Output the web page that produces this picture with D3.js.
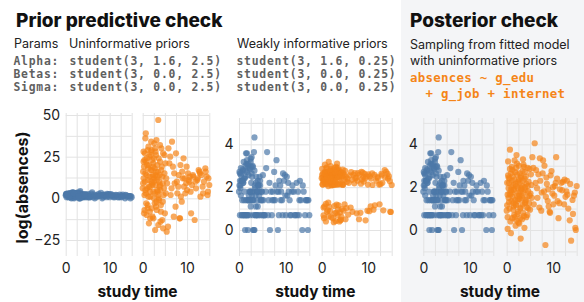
<!DOCTYPE html>
<html><head><meta charset="utf-8">
<script src="https://cdn.jsdelivr.net/npm/d3@7"></script>
<style>
body{margin:0;background:#fff}
svg{display:block}
text{font-family:Inter,"Noto Sans",sans-serif}
text.mono{font-family:"DejaVu Sans Mono",monospace;white-space:pre}
</style>
</head><body>
<svg id="c" width="584" height="302"></svg>
<script>
// ---- data ----
const studyTime = [
 0.2,1.1,2.4,3.3,0.7,4.1,1.8,2.9,0.4,3.7,
 1.5,2.2,4.6,0.9,3.1,1.3,2.7,5.2,0.1,3.9,
 2.0,4.4,1.0,3.5,0.6,2.5,4.9,1.7,3.0,0.3,
 2.8,1.2,4.2,0.8,3.4,2.1,5.0,1.6,3.8,0.5,
 2.3,4.7,1.4,3.2,0.0,2.6,4.0,1.9,3.6,5.4,
 0.9,2.4,3.3,1.1,4.5,2.0,0.2,3.0,1.7,4.3,
 2.9,0.6,3.7,1.4,5.1,2.2,0.4,3.9,1.8,2.6,
 4.8,1.0,3.1,0.7,2.5,4.1,1.5,3.5,0.1,2.8,
 1.3,4.4,2.1,0.8,3.4,5.3,1.9,2.7,0.3,3.8,
 2.3,1.6,4.6,0.5,3.2,2.0,4.0,1.2,3.6,0.9,
 2.4,3.0,1.7,4.9,0.2,2.8,3.3,1.1,4.2,2.5,
 0.6,3.9,1.4,2.2,5.5,3.5,0.4,1.9,2.9,4.5,
 6.0,6.6,7.2,7.8,8.3,8.9,9.4,10.0,10.6,11.1,
 11.7,12.3,12.9,13.5,14.1,14.7,6.3,7.0,7.5,8.1,
 8.6,9.2,9.8,10.3,10.9,11.4,12.0,12.6,13.2,13.8,
 14.4,15.0,5.8,6.8,7.4,8.0,8.5,9.0,9.6,10.2,
 10.8,11.9,13.0,14.2,14.8,6.2,7.7,8.8,9.9,11.3,
 12.4,13.6,5.7,6.5,7.1,8.4,9.3,10.5,12.8,14.6
];
const observedLogAbsences = [
 2.30,0.69,1.79,2.77,1.39,2.08,0.69,3.00,1.61,2.48,
 1.39,2.89,0.69,2.20,1.79,0.00,2.64,1.39,2.08,0.69,
 2.56,1.79,3.18,0.69,2.30,1.10,1.39,2.71,0.69,1.95,
 1.61,2.40,0.69,2.83,2.08,1.39,0.69,3.09,1.79,2.30,
 0.69,1.39,2.48,3.64,1.79,2.94,1.10,0.00,2.20,0.69,
 2.77,1.79,4.32,0.69,2.08,1.39,2.64,0.00,3.26,1.61,
 1.39,2.30,0.69,3.00,2.56,1.79,2.89,1.39,0.69,2.20,
 1.79,2.40,1.39,0.69,3.33,2.08,3.58,0.69,2.71,1.79,
 0.69,2.48,1.61,2.30,1.95,0.69,1.39,3.40,2.08,1.79,
 2.83,0.69,1.39,2.64,0.00,3.09,2.30,1.79,1.10,2.20,
 1.39,2.94,3.58,1.79,0.69,2.48,0.00,1.39,2.08,3.18,
 0.69,1.79,2.77,1.39,0.69,1.61,2.56,3.00,1.39,2.30,
 3.64,0.00,1.79,2.08,0.00,1.39,2.64,0.69,1.79,0.69,
 1.79,2.20,1.39,0.00,0.69,0.00,1.39,0.69,2.71,1.79,
 2.30,1.39,2.56,1.61,0.69,2.08,0.69,1.79,1.39,1.79,
 1.39,0.69,2.89,1.79,1.39,3.26,0.69,1.79,2.30,2.48,
 1.39,0.69,2.30,1.39,1.39,0.69,1.39,2.08,1.61,1.79,
 0.69,2.08,1.79,2.20,1.39,1.79,0.69,2.20,0.69,1.39
];
const priorUninformative = [
 12,-4,21,5,39,-8,17,28,2,10,
 25,8,-18,14,-2,31,18,3,9,22,
 -6,13,6,47,36,0,15,-12,26,19,
 -19,11,30,-3,16,23,-9,4,7,27,
 14,2,20,-7,6,33,-14,10,24,-20,
 -10,4,13,29,9,17,22,-5,1,19,
 8,15,-1,7,21,-11,-7,32,26,12,
 6,20,35,3,24,-4,13,-16,16,30,
 1,-13,9,22,4,12,34,-3,-9,14,
 19,-8,27,10,11,29,5,18,0,24,
 -12,16,7,26,28,3,20,-6,17,10,
 5,8,-15,13,9,2,23,28,14,-2,
 21,34,9,3,-12,16,12,5,13,8,
 -13,11,15,7,18,4,2,-11,27,14,
 1,24,9,11,-9,13,6,17,14,10,
 13,8,30,19,-5,7,20,12,3,15,
 4,10,1,16,12,25,10,-2,19,14,
 12,3,-17,6,15,-12,7,10,16,2
];
const priorWeak = [
 2.45,0.85,2.62,2.12,2.71,0.48,2.55,2.38,1.05,2.80,
 3.18,2.10,2.66,0.40,2.95,2.30,1.12,2.48,2.58,0.82,
 2.75,2.15,2.88,0.95,2.20,2.52,1.20,2.68,0.42,2.33,
 2.90,2.14,2.40,2.62,0.70,2.08,2.76,1.08,2.50,0.55,
 2.37,0.90,2.05,2.82,2.42,0.36,2.60,2.98,1.15,2.25,
 2.70,2.16,2.50,2.92,2.10,0.60,2.12,2.64,2.22,0.98,
 2.12,1.10,2.35,2.56,0.50,2.78,2.30,2.13,0.88,2.45,
 2.58,2.40,0.80,3.05,2.11,2.70,0.65,2.48,2.86,2.60,
 0.92,2.52,2.44,2.15,2.90,1.02,2.28,2.12,2.64,0.40,
 2.66,2.47,2.12,2.35,1.18,2.84,0.45,2.58,2.74,1.22,
 0.55,2.24,2.75,2.36,2.13,0.78,3.10,2.50,0.62,2.30,
 2.62,2.66,1.28,2.55,2.40,2.14,0.68,2.40,2.70,2.82,
 2.55,0.85,2.42,2.66,0.80,2.48,0.45,2.60,2.40,0.95,
 2.30,2.12,2.55,2.80,2.62,0.85,2.70,2.18,0.78,2.58,
 2.36,2.62,0.90,2.50,2.10,1.15,2.42,2.14,0.92,2.72,
 2.50,2.10,2.20,2.58,2.44,0.50,2.72,2.26,2.50,0.88,
 2.65,2.48,2.20,2.40,0.84,1.05,2.30,2.68,2.12,2.58,
 1.20,2.45,0.72,2.34,2.66,2.16,2.40,1.10,2.62,2.28
];
const posteriorDraws = [
 1.65,2.30,0.85,2.05,3.75,1.40,2.70,0.55,1.95,2.95,
 1.10,3.10,1.80,-0.15,2.45,1.55,0.30,2.60,2.20,1.25,
 2.05,0.70,1.35,3.30,1.00,1.70,2.85,0.60,-0.40,2.55,
 1.45,2.80,2.15,0.40,1.20,3.50,0.95,1.90,2.40,1.30,
 0.75,2.25,2.10,1.60,0.90,2.35,1.85,0.20,3.05,1.50,
 2.65,1.95,0.50,1.75,2.90,1.15,0.60,2.50,3.25,1.05,
 1.80,2.40,0.65,0.95,1.70,2.60,1.50,2.00,1.40,3.00,
 1.25,2.00,1.95,2.85,0.35,2.50,1.85,0.80,1.15,2.20,
 2.50,1.55,0.45,1.65,2.75,2.10,1.20,1.60,3.20,0.10,
 1.35,0.70,1.00,2.20,1.90,2.90,1.30,0.55,1.75,1.85,
 2.25,1.05,2.35,1.60,0.05,2.65,1.50,2.95,0.60,1.45,
 1.70,2.70,1.25,1.60,3.40,2.30,2.45,2.15,1.00,2.05,
 4.05,1.50,2.30,3.25,-0.70,1.90,2.55,1.20,3.40,0.55,
 2.20,1.20,2.30,0.45,1.40,0.10,2.80,1.05,1.75,3.00,
 2.15,0.85,1.70,2.05,1.35,1.90,2.25,1.55,1.00,-0.50,
 1.60,2.05,1.20,2.60,0.90,1.80,2.45,1.10,2.75,1.60,
 2.40,1.85,1.65,0.75,0.00,2.20,2.65,1.35,2.00,1.25,
 2.35,2.15,2.90,1.95,3.35,1.55,0.80,2.20,1.80,1.75
];
const xTickLabels = [0, 10];
const xGridValues = [0, 2.5, 5, 7.5, 10, 12.5, 15];
const yTickLabelsWide = [-25, 0, 25, 50];
const yGridWide = [-25, -12.5, 0, 12.5, 25, 37.5, 50];
const yTickLabelsNarrow = [0, 2, 4];
const yGridNarrow = [-1, 0, 1, 2, 3, 4, 5];
const priorNames = ["Alpha:", "Betas:", "Sigma:"];
const uninformativeText = ["student(3, 1.6, 2.5)", "student(3, 0.0, 2.5)", "student(3, 0.0, 2.5)"];
const weakText = ["student(3, 1.6, 0.25)", "student(3, 0.0, 0.25)", "student(3, 0.0, 0.25)"];

// ---- drawing ----
const BLUE = "#4c78a8", ORANGE = "#f58518", GRID = "#e3e3e3";
const svg = d3.select("#c");
svg.append("rect").attr("x", 401).attr("y", 0).attr("width", 183).attr("height", 302).attr("fill", "#f4f5f7");

// headers
svg.append("text").attr("x", 16).attr("y", 27).attr("font-size", 19).attr("font-weight", 800).attr("fill", "#111").text("Prior predictive check");
svg.append("text").attr("x", 410).attr("y", 27).attr("font-size", 19).attr("font-weight", 800).attr("fill", "#111").text("Posterior check");
svg.append("text").attr("x", 14).attr("y", 48).attr("font-size", 12.5).attr("fill", "#222").text("Params");
svg.append("text").attr("x", 69).attr("y", 48).attr("font-size", 12.5).attr("fill", "#222").text("Uninformative priors");
svg.append("text").attr("x", 237).attr("y", 48).attr("font-size", 12.5).attr("fill", "#222").text("Weakly informative priors");
priorNames.forEach((t, i) => {
  const y = 64.5 + i * 13.3;
  const addMono = (x, s) => svg.append("text").attr("class", "mono").attr("x", x).attr("y", y)
    .attr("font-size", 11.4).attr("font-weight", 700).attr("letter-spacing", 0.76).attr("fill", "#5f5f5f").text(s);
  addMono(13.5, t);
  addMono(69.5, uninformativeText[i]);
  addMono(236.5, weakText[i]);
});
svg.append("text").attr("x", 410).attr("y", 49).attr("font-size", 12.5).attr("fill", "#222").text("Sampling from fitted model");
svg.append("text").attr("x", 410).attr("y", 65).attr("font-size", 12.5).attr("fill", "#222").text("with uninformative priors");
svg.append("text").attr("class", "mono").attr("x", 410).attr("y", 82).attr("font-size", 12.4).attr("letter-spacing", 0.3).attr("font-weight", 700).attr("fill", ORANGE).text("absences ~ g_edu");
svg.append("text").attr("class", "mono").attr("x", 410).attr("y", 97.5).attr("font-size", 12.4).attr("letter-spacing", 0.3).attr("font-weight", 700).attr("fill", ORANGE).text("  + g_job + internet");

svg.append("text").attr("transform", "translate(28,187.5) rotate(-90)").attr("text-anchor", "middle")
  .attr("font-size", 16).attr("font-weight", 700).attr("fill", "#111").text("log(absences)");

const panels = [
  { domain: [-25, 50], range: [240, 115], top: 113, bottom: 256, subs: [[65.7, 131.7], [142.7, 209.3]],
    yLabels: yTickLabelsWide, yGrid: yGridWide, model: priorUninformative },
  { domain: [-1, 5], range: [251.4, 122.9], top: 118, bottom: 256, subs: [[239, 309.3], [321.7, 391.7]],
    yLabels: yTickLabelsNarrow, yGrid: yGridNarrow, model: priorWeak },
  { domain: [-1, 5], range: [251.4, 122.9], top: 118, bottom: 256, subs: [[423.3, 493.3], [506.7, 576.7]],
    yLabels: yTickLabelsNarrow, yGrid: yGridNarrow, model: posteriorDraws }
];
const fmt = d3.format("d");

panels.forEach(p => {
  const y = d3.scaleLinear().domain(p.domain).range(p.range);
  p.subs.forEach((s, si) => {
    const x = d3.scaleLinear().domain([0, 15]).range(s);
    const g = svg.append("g");
    g.append("g").attr("transform", `translate(0,${p.bottom})`)
      .call(d3.axisBottom(x).tickValues(xGridValues).tickSize(-(p.bottom - p.top)).tickFormat(""))
      .call(a => { a.select(".domain").remove(); a.selectAll("line").attr("stroke", GRID); });
    g.append("g").attr("transform", `translate(${s[0]},0)`)
      .call(d3.axisLeft(y).tickValues(p.yGrid).tickSize(-(s[1] - s[0])).tickFormat(""))
      .call(a => { a.select(".domain").remove(); a.selectAll("line").attr("stroke", GRID); });
    g.append("g").attr("transform", `translate(0,${p.bottom})`)
      .call(d3.axisBottom(x).tickValues(xTickLabels).tickFormat(fmt).tickSize(0).tickPadding(7.5))
      .call(a => { a.select(".domain").remove(); a.selectAll("text").attr("font-size", 14).attr("fill", "#222"); });
    if (si === 0) {
      g.append("g").attr("transform", `translate(${s[0]},0)`)
        .call(d3.axisLeft(y).tickValues(p.yLabels).tickFormat(fmt).tickSize(0).tickPadding(5.5))
        .call(a => { a.select(".domain").remove(); a.selectAll("text").attr("font-size", 14).attr("fill", "#222"); });
    }
    const vals = si === 0 ? observedLogAbsences : p.model;
    g.append("g").selectAll("circle").data(studyTime).join("circle")
      .attr("cx", d => x(d)).attr("cy", (d, i) => y(vals[i])).attr("r", 3.1)
      .attr("fill", si === 0 ? BLUE : ORANGE).attr("fill-opacity", 0.7);
  });
  svg.append("text").attr("x", (p.subs[0][0] + p.subs[1][1]) / 2).attr("y", 297).attr("text-anchor", "middle")
    .attr("font-size", 15.5).attr("font-weight", 700).attr("fill", "#111").text("study time");
});
</script>
</body></html>
